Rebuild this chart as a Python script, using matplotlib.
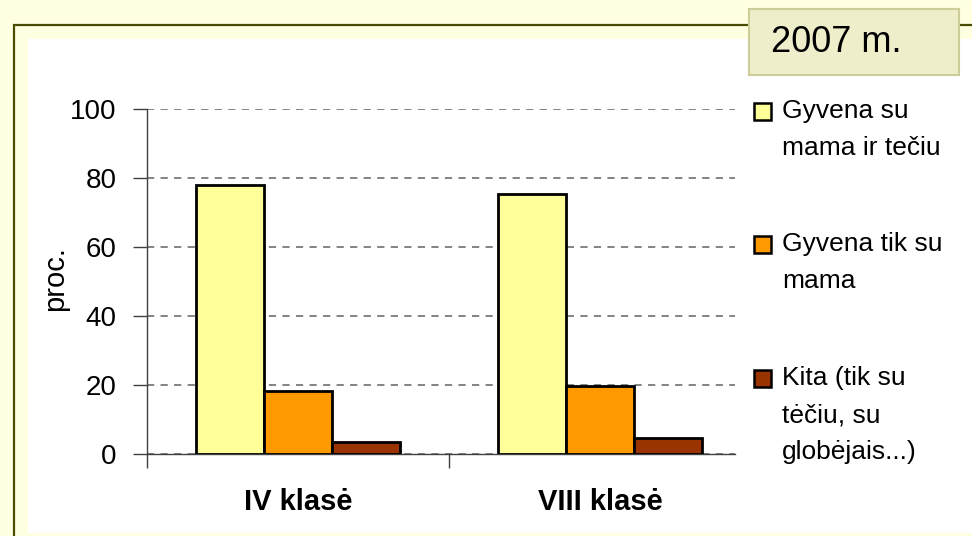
import matplotlib
matplotlib.use("Agg")
import matplotlib.pyplot as plt
from matplotlib.patches import Rectangle

plt.rcParams['font.family'] = ['Liberation Sans', 'DejaVu Sans']

categories = ["IV klasė", "VIII klasė"]
series_labels = ["Gyvena su\nmama ir tečiu", "Gyvena tik su\nmama", "Kita (tik su\ntėčiu, su\nglobėjais...)"]
series_values = [
    [78.1, 75.4],
    [18.3, 19.8],
    [3.6, 4.8],
]
colors = ["#FFFF99", "#FF9900", "#993300"]
yticks = [0, 20, 40, 60, 80, 100]
title_text = "2007 m."
ylabel = "proc."

W, H = 972, 536
fig = plt.figure(figsize=(W / 100, H / 100), dpi=100)
fig.patch.set_facecolor("#FFFFE1")

def fx(px):
    return px / W

def fy(py):
    return 1 - py / H

# outer frame and white plot panel
fig.add_artist(Rectangle((fx(14), fy(600)), fx(1000) - fx(14), fy(25) - fy(600),
                         transform=fig.transFigure, facecolor="#FFFFE1",
                         edgecolor="#4A4A00", linewidth=1.6, zorder=-2))
fig.add_artist(Rectangle((fx(28), fy(533)), fx(1000) - fx(28), fy(39) - fy(533),
                         transform=fig.transFigure, facecolor="white",
                         edgecolor="none", zorder=-1))

ax_l, ax_r, ax_t, ax_b = 147, 735, 109.3, 454.3
ax = fig.add_axes([fx(ax_l), fy(ax_b), fx(ax_r) - fx(ax_l), fy(ax_t) - fy(ax_b)])
ax.set_facecolor("none")
ax.set_zorder(2)

bw = 0.225
offsets = [-bw, 0, bw]
for vals, off, col in zip(series_values, offsets, colors):
    ax.bar([i + off for i in range(len(categories))], vals, width=bw, color=col,
           edgecolor="black", linewidth=2.0, zorder=3)

ax.set_ylim(0, 100)
ax.set_xlim(-0.5, -0.5 + (ax_r - ax_l) / 302.0)
ax.set_yticks(yticks)
ax.set_yticklabels([str(t) for t in yticks], fontsize=20)
ax.yaxis.grid(True, linestyle=(0, (4, 3.5)), color="#7A7A7A", linewidth=1.3, zorder=1)
ax.tick_params(axis="y", direction="out", length=10, width=1, color="#404040", pad=12)

ax.set_xticks([-0.5, 0.5])
ax.set_xticklabels(["", ""])
ax.set_xticks([0, 1], minor=True)
ax.set_xticklabels(categories, minor=True, fontsize=21, fontweight="bold")
ax.tick_params(axis="x", which="minor", length=0, pad=24)
ax.tick_params(axis="x", which="major", direction="out", length=10, width=1, color="#404040")

for s in ["top", "right"]:
    ax.spines[s].set_visible(False)
for s in ["left", "bottom"]:
    ax.spines[s].set_color("#404040")
    ax.spines[s].set_linewidth(1)

fig.text(fx(55), fy(279), ylabel, rotation=90, fontsize=21, ha="center", va="center")

# title box
fig.add_artist(Rectangle((fx(749), fy(75)), fx(959) - fx(749), fy(9) - fy(75),
                         transform=fig.transFigure, facecolor="#EEEECB",
                         edgecolor="#CDCD9A", linewidth=1.5, zorder=5))
fig.text(fx(771), fy(43), title_text, fontsize=26, ha="left", va="center", zorder=6)

# legend
first_line_y = [111, 244, 378]
line_step = 37
for lab, col, y0 in zip(series_labels, colors, first_line_y):
    fig.add_artist(Rectangle((fx(754), fy(y0 + 9)), fx(17), 17 / H,
                             transform=fig.transFigure, facecolor=col,
                             edgecolor="black", linewidth=1.8, zorder=5))
    for k, line in enumerate(lab.split("\n")):
        fig.text(fx(782), fy(y0 + k * line_step), line, fontsize=19,
                 ha="left", va="center")

fig.savefig("out.png", dpi=100, facecolor=fig.get_facecolor())
